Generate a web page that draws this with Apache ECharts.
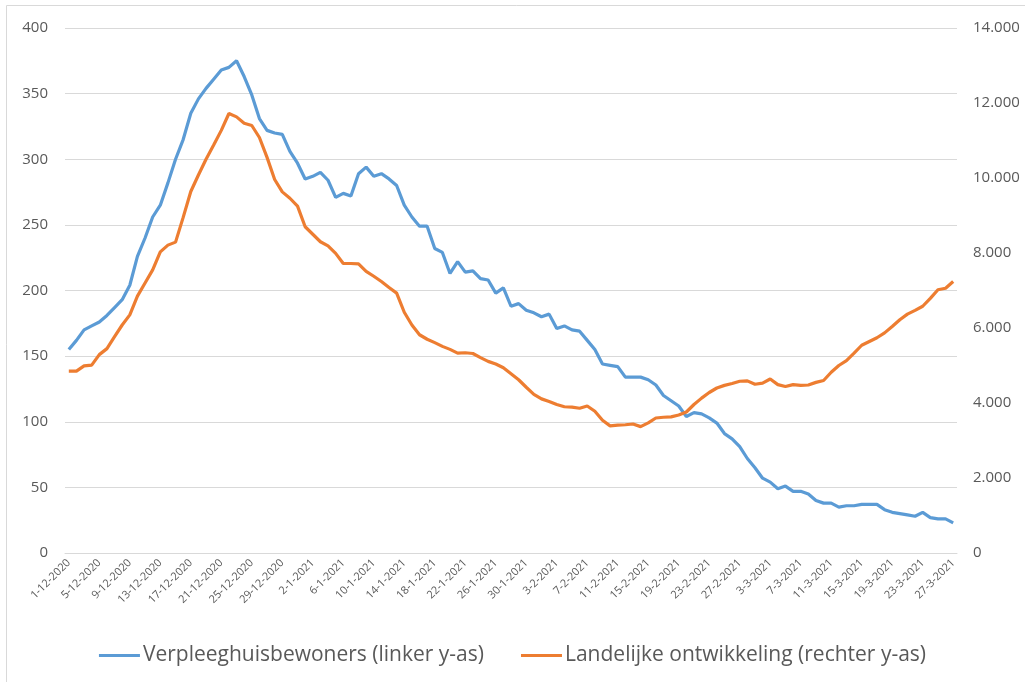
<!DOCTYPE html>
<html>
<head>
<meta charset="utf-8">
<script src="https://cdn.jsdelivr.net/npm/echarts@6/dist/echarts.min.js"></script>
<style>
  html, body { margin: 0; padding: 0; background: #fff; }
  #chart { width: 1025px; height: 682px; }
</style>
</head>
<body>
<div id="chart"></div>
<script>
// daily categories 1-12-2020 .. 27-3-2021
const startDate = new Date(2020, 11, 1);
const dayCount = 117;
const dates = [];
for (let i = 0; i < dayCount; i++) {
  const d = new Date(startDate.getFullYear(), startDate.getMonth(), startDate.getDate() + i);
  dates.push(d.getDate() + "-" + (d.getMonth() + 1) + "-" + d.getFullYear());
}

// verpleeghuisbewoners (linker y-as)
const verpleeghuis = [
  155, 162, 170, 173, 176, 181, 187, 193, 204, 226,
  240, 256, 265, 282, 300, 315, 335, 346, 354, 361,
  368, 370, 375, 363, 349, 331, 322, 320, 319, 306,
  297, 285, 287, 290, 284, 271, 274, 272, 289, 294,
  287, 289, 285, 280, 265, 256, 249, 249, 232, 229,
  213, 222, 214, 215, 209, 208, 198, 202, 188, 190,
  185, 183, 180, 182, 171, 173, 170, 169, 162, 155,
  144, 143, 142, 134, 134, 134, 132, 128, 120, 116,
  112, 104, 107, 106, 103, 99, 91, 87, 81, 72,
  65, 57, 54, 49, 51, 47, 47, 45, 40, 38,
  38, 35, 36, 36, 37, 37, 37, 33, 31, 30,
  29, 28, 31, 27, 26, 26, 23
];

// landelijke ontwikkeling (rechter y-as)
const landelijk = [
  4850, 4850, 4990, 5010, 5290, 5450, 5770, 6080, 6350, 6850,
  7200, 7550, 8030, 8210, 8290, 8950, 9640, 10080, 10500, 10880,
  11270, 11720, 11630, 11460, 11400, 11080, 10550, 9960, 9630, 9460,
  9250, 8700, 8500, 8300, 8190, 7990, 7720, 7720, 7710, 7510,
  7380, 7240, 7080, 6930, 6420, 6080, 5820, 5700, 5610, 5510,
  5430, 5330, 5340, 5320, 5210, 5110, 5040, 4940, 4780, 4620,
  4420, 4230, 4110, 4040, 3960, 3900, 3890, 3860, 3920, 3780,
  3540, 3390, 3410, 3420, 3440, 3370, 3470, 3600, 3620, 3630,
  3680, 3760, 3960, 4130, 4280, 4400, 4470, 4520, 4580, 4590,
  4500, 4530, 4640, 4490, 4440, 4490, 4470, 4480, 4550, 4600,
  4820, 5000, 5130, 5330, 5540, 5640, 5740, 5870, 6040, 6220,
  6370, 6470, 6580, 6790, 7020, 7060, 7240
];

const seriesNames = ["Verpleeghuisbewoners (linker y-as)", "Landelijke ontwikkeling (rechter y-as)"];
const textColor = "#595959";
const fontName = "'Open Sans', 'Noto Sans', sans-serif";

const chart = echarts.init(document.getElementById("chart"));
const options = {
  animation: false,
  color: ["#5B9BD5", "#ED7D31"],
  textStyle: { fontFamily: fontName },
  grid: { left: 65, right: 68, top: 28, bottom: 129 },
  graphic: [
    {
      type: "rect",
      shape: { x: 6.5, y: 5.5, width: 1040, height: 700 },
      style: { fill: "none", stroke: "#d9d9d9", lineWidth: 1 },
      silent: true,
    },
  ],
  legend: {
    data: seriesNames,
    bottom: 11,
    left: "center",
    icon: "rect",
    itemWidth: 41,
    itemHeight: 3,
    itemGap: 37,
    selectedMode: false,
    textStyle: { color: textColor, fontSize: 21, fontFamily: fontName, padding: [0, 0, 0, -2] },
  },
  xAxis: {
    type: "category",
    data: dates,
    boundaryGap: true,
    axisLine: { lineStyle: { color: "#d9d9d9", width: 1 } },
    axisTick: { interval: 3, length: 5, lineStyle: { color: "#d9d9d9" } },
    axisLabel: {
      interval: 3,
      rotate: 45,
      fontSize: 11,
      color: textColor,
      margin: 8,
      fontFamily: fontName,
    },
    splitLine: { show: false },
  },
  yAxis: [
    {
      type: "value",
      min: 0,
      max: 400,
      interval: 50,
      axisLine: { show: false },
      axisTick: { show: false },
      axisLabel: { color: textColor, fontSize: 15, margin: 17, fontFamily: fontName },
      splitLine: { lineStyle: { color: "#d9d9d9", width: 1 } },
    },
    {
      type: "value",
      min: 0,
      max: 14000,
      interval: 2000,
      position: "right",
      axisLine: { show: false },
      axisTick: { show: false },
      splitLine: { show: false },
      axisLabel: {
        color: textColor,
        fontSize: 15,
        margin: 16,
        fontFamily: fontName,
        formatter: function (v) {
          return v >= 1000 ? Math.floor(v / 1000) + "." + String(v % 1000).padStart(3, "0") : String(v);
        },
      },
    },
  ],
  series: [
    {
      name: seriesNames[0],
      type: "line",
      yAxisIndex: 0,
      data: verpleeghuis,
      showSymbol: false,
      symbol: "none",
      lineStyle: { width: 3.2 },
    },
    {
      name: seriesNames[1],
      type: "line",
      yAxisIndex: 1,
      data: landelijk,
      showSymbol: false,
      symbol: "none",
      lineStyle: { width: 3.2 },
    },
  ],
};
chart.setOption(options);
</script>
</body>
</html>
